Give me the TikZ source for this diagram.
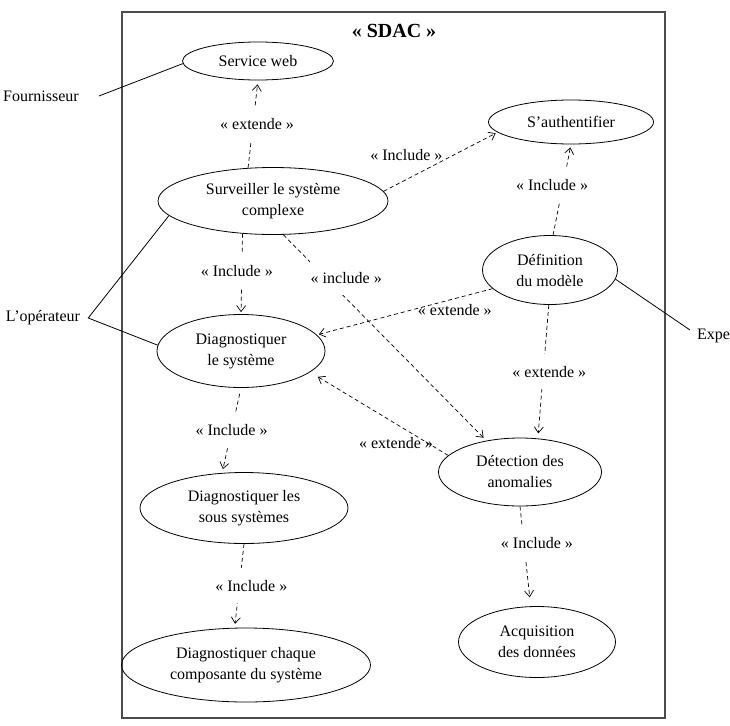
\documentclass[tikz,border=0pt]{standalone}
\usepackage{fontspec}
\setmainfont{Liberation Serif}
\usepackage{tikz}
\usetikzlibrary{shapes.geometric,arrows.meta}

\begin{document}
\begin{tikzpicture}[x=1pt, y=-1pt, >={Straight Barb[length=6pt,width=9pt]},
every node/.style={align=center, font=\fontsize{16}{21}\selectfont},
usecase/.style={draw, ellipse, line width=0.8pt, inner sep=0pt},
actor/.style={inner sep=0pt},
rel/.style={->, line width=0.7pt, dash pattern=on 4pt off 3pt},
brk/.style={fill=white, inner xsep=1pt, inner ysep=12pt},
lbl/.style={inner sep=1pt}]
\useasboundingbox (0,0) rectangle (730,725);
\clip (0,0) rectangle (730,725);
\draw[line width=1.2pt, black!70] (122,12) rectangle (665,718);
\node[font=\fontsize{20}{24}\selectfont\bfseries] (title) at (394,31) {« SDAC »};

\node[usecase, minimum width=151pt, minimum height=38pt] (web) at (258,61) {Service web};
\node[usecase, minimum width=230pt, minimum height=67pt] (surv) at (273,201) {Surveiller le système\\complexe};
\node[usecase, minimum width=165pt, minimum height=44pt] (auth) at (571,122) {S’authentifier};
\node[usecase, minimum width=135pt, minimum height=69pt] (def) at (550,270) {Définition\\du modèle};
\node[usecase, minimum width=168pt, minimum height=73pt] (diag) at (241,351) {Diagnostiquer\\le système};
\node[usecase, minimum width=163pt, minimum height=68pt] (det) at (520,472) {Détection des\\anomalies};
\node[usecase, minimum width=208pt, minimum height=71pt] (sous) at (244,508) {Diagnostiquer les\\sous systèmes};
\node[usecase, minimum width=249pt, minimum height=74pt] (chq) at (246,665) {Diagnostiquer chaque\\composante du système};
\node[usecase, minimum width=157pt, minimum height=71pt] (acq) at (537,642) {Acquisition\\des données};

\node[actor] (fourn) at (41,96) {Fournisseur};
\node[actor] (op) at (43,318) {L’opérateur};
\node[actor, anchor=west] (expert) at (697,336) {Expert};

\draw[line width=0.8pt] ([xshift=20pt]fourn.east) -- (web.182);
\draw[line width=0.8pt] (surv.188) -- ([xshift=8pt]op.east) -- (diag.176);
\draw[line width=0.8pt] (def.352) -- ([xshift=-7pt,yshift=6pt]expert.west);

\draw[rel, shorten >=4pt] (surv.127) -- node[brk, xshift=4pt] {« extende »} (web.south);
\draw[rel, shorten >=2pt] (surv.5) -- node[lbl, pos=0.2, yshift=25pt] {« Include »} (auth.188);
\draw[rel, shorten >=3pt] (def.85) -- node[brk, xshift=-10pt, yshift=5pt] {« Include »} (auth.south);
\draw[rel, shorten >=2pt] (surv.227) -- node[brk, xshift=-5pt, yshift=3pt] {« Include »} (diag.north);
\draw[rel, shorten >=4pt] (surv.287) -- node[brk, pos=0.31, yshift=21pt] {« include »} (det.137);
\draw[rel, shorten >=2pt] (def.198) -- node[lbl, pos=0.215, yshift=-11pt] {« extende »} (diag.12);
\draw[rel, shorten >=5pt] (def.268) -- node[brk, xshift=6pt] {« extende »} (det.62);
\draw[rel, shorten >=9pt] (det.167) -- node[lbl, pos=0.4, xshift=3pt, yshift=-21pt] {« extende »} (diag.343);
\draw[rel, shorten <=6pt, shorten >=4pt] (diag.south) -- node[brk] {« Include »} (sous.122);
\draw[rel, shorten >=4pt] (sous.south) -- node[brk, xshift=12pt] {« Include »} (chq.107);
\draw[rel, shorten >=9pt] (det.south) -- node[brk, pos=0.37, xshift=13pt] {« Include »} (acq.100);
\end{tikzpicture}
\end{document}
